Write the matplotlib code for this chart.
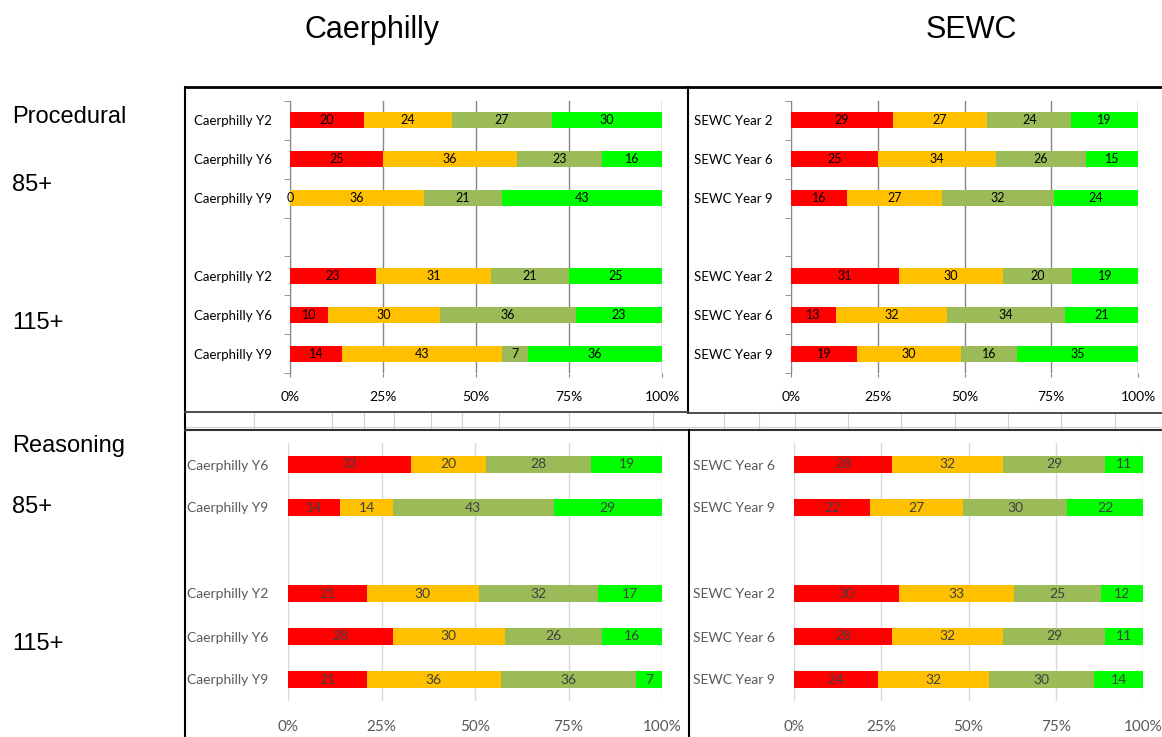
import matplotlib.pyplot as plt
import numpy as np

# series colours: below / towards / at / above expected
seg_colors = ["#FF0000", "#FFC000", "#9BBB59", "#00FF00"]

# Procedural - Caerphilly (85+ rows, blank, 115+ rows)
proc_caer_labels = ["Caerphilly Y2", "Caerphilly Y6", "Caerphilly Y9", "",
                    "Caerphilly Y2", "Caerphilly Y6", "Caerphilly Y9"]
proc_caer_values = [[20, 24, 27, 30], [25, 36, 23, 16], [0, 36, 21, 43], None,
                    [23, 31, 21, 25], [10, 30, 36, 23], [14, 43, 7, 36]]

# Procedural - SEWC
proc_sewc_labels = ["SEWC Year 2", "SEWC Year 6", "SEWC Year 9", "",
                    "SEWC Year 2", "SEWC Year 6", "SEWC Year 9"]
proc_sewc_values = [[29, 27, 24, 19], [25, 34, 26, 15], [16, 27, 32, 24], None,
                    [31, 30, 20, 19], [13, 32, 34, 21], [19, 30, 16, 35]]

# Reasoning - Caerphilly
reas_caer_labels = ["Caerphilly Y6", "Caerphilly Y9", "",
                    "Caerphilly Y2", "Caerphilly Y6", "Caerphilly Y9"]
reas_caer_values = [[33, 20, 28, 19], [14, 14, 43, 29], None,
                    [21, 30, 32, 17], [28, 30, 26, 16], [21, 36, 36, 7]]

# Reasoning - SEWC
reas_sewc_labels = ["SEWC Year 6", "SEWC Year 9", "",
                    "SEWC Year 2", "SEWC Year 6", "SEWC Year 9"]
reas_sewc_values = [[28, 32, 29, 11], [22, 27, 30, 22], None,
                    [30, 33, 25, 12], [28, 32, 29, 11], [24, 32, 30, 14]]

x_ticks = [0, 0.25, 0.5, 0.75, 1.0]
x_ticklabels = ["0%", "25%", "50%", "75%", "100%"]

W, H = 1162, 737
fig = plt.figure(figsize=(W / 100, H / 100), dpi=100)
chart_font = "Lato"
outer_font = "Liberation Sans"


def px_axes(x0, y0, x1, y1):
    return fig.add_axes([x0 / W, 1 - y1 / H, (x1 - x0) / W, (y1 - y0) / H])


def draw_panel(ax, labels, values, old_style):
    n = len(labels)
    pos = np.arange(n)
    txt_col = "black" if old_style else "#404040"
    lab_size = 9 if old_style else 10
    for i, row in enumerate(values):
        if row is None:
            continue
        row = np.array(row, dtype=float)
        frac = row / row.sum()
        left = 0.0
        for k in range(4):
            b = ax.barh(pos[i], frac[k], left=left, height=0.41,
                        color=seg_colors[k], zorder=3)
            ts = ax.bar_label(b, labels=[str(int(row[k]))], label_type="center",
                              fontsize=lab_size, color=txt_col, family=chart_font)
            for t in ts:
                t.set_clip_on(False)
                t.set_zorder(6)
            left += frac[k]
    ax.set_xlim(0, 1)
    ax.set_ylim(n - 0.5, -0.5)
    ax.set_xticks(x_ticks)
    ax.set_xticklabels(x_ticklabels, family=chart_font)
    ax.set_yticks(pos)
    ax.set_yticklabels(labels, family=chart_font, fontsize=9.5)
    ax.set_facecolor("none")
    for s in ["top", "right", "bottom"]:
        ax.spines[s].set_visible(False)
    if old_style:
        ax.grid(axis="x", color="#868686", linewidth=1, zorder=0)
        ax.spines["left"].set_color("#868686")
        ax.set_yticks(np.arange(n + 1) - 0.5, minor=True)
        ax.tick_params(axis="y", which="major", length=0, pad=13, colors="black")
        ax.tick_params(axis="y", which="minor", length=4, color="#868686")
        ax.tick_params(axis="x", length=3, color="#868686", pad=10,
                       labelsize=10, labelcolor="black")
    else:
        ax.grid(axis="x", color="#D9D9D9", linewidth=1, zorder=0)
        ax.spines["left"].set_visible(False)
        ax.tick_params(axis="y", length=0, pad=14, labelcolor="#595959",
                       labelsize=10)
        ax.tick_params(axis="x", length=0, pad=14, labelsize=11,
                       labelcolor="#595959")


draw_panel(px_axes(290, 101, 662, 373), proc_caer_labels, proc_caer_values, True)
draw_panel(px_axes(791, 101, 1138, 373), proc_sewc_labels, proc_sewc_values, True)
draw_panel(px_axes(288, 443, 662, 701), reas_caer_labels, reas_caer_values, False)
draw_panel(px_axes(794, 443, 1143, 701), reas_sewc_labels, reas_sewc_values, False)


# spreadsheet-style frame lines
def fline(xs, ys, color="black", lw=1.3):
    fig.add_artist(plt.Line2D([x / W for x in xs], [1 - y / H for y in ys],
                              color=color, linewidth=lw, transform=fig.transFigure))


cell_cols = [254, 332, 364, 394, 431, 462, 499, 569, 653,
             724, 759, 795, 848, 901, 955, 1008, 1061, 1115]
for cx in cell_cols:
    fline([cx, cx], [412, 430], color="#D0D0D0", lw=0.8)
fline([185, 1162], [427, 427], color="#D0D0D0", lw=0.8)

fline([185, 1162], [87, 87], lw=2)
fline([185, 185], [87, 737], lw=1.5)
fline([688, 688], [87, 413], lw=1.5)
fline([185, 688], [412, 412], color="#404040", lw=1.3)
fline([688, 1162], [413, 413], color="#404040", lw=1.3)
fline([185, 1162], [430, 430], color="#303030", lw=1.5)
fline([689, 689], [430, 737], lw=1.5)

# headings
fig.text(372 / W, 1 - 30 / H, "Caerphilly", fontsize=22, family=outer_font,
         ha="center", va="center")
fig.text(971 / W, 1 - 30 / H, "SEWC", fontsize=22, family=outer_font,
         ha="center", va="center")
side_text = [("Procedural", 117), ("85+", 185), ("115+", 323),
             ("Reasoning", 446), ("85+", 507), ("115+", 644)]
for s, y in side_text:
    fig.text(12 / W, 1 - y / H, s, fontsize=17, family=outer_font,
             ha="left", va="center")

fig.savefig("out.png", dpi=100)
